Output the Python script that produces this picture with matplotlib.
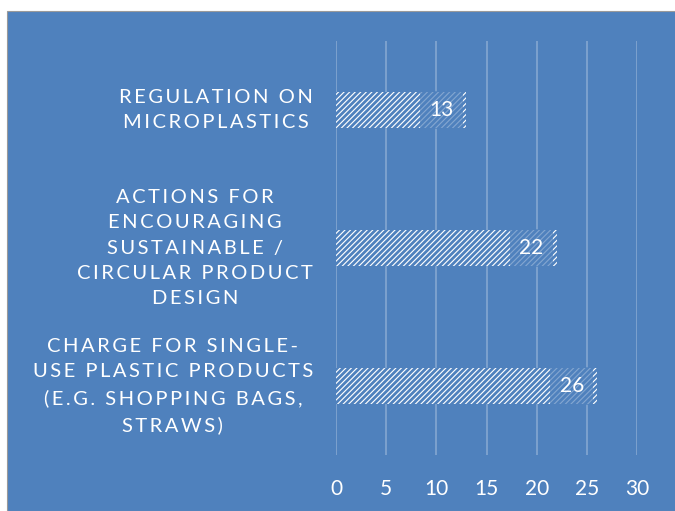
import matplotlib.pyplot as plt
from matplotlib.patches import Rectangle

# data
categories = [
    "REGULATION ON\nMICROPLASTICS",
    "ACTIONS FOR\nENCOURAGING\nSUSTAINABLE /\nCIRCULAR PRODUCT\nDESIGN",
    "CHARGE FOR SINGLE-\nUSE PLASTIC PRODUCTS\n(E.G. SHOPPING BAGS,\nSTRAWS)",
]
values = [13, 22, 26]
xticks = [0, 5, 10, 15, 20, 25, 30]

BLUE = "#4F81BD"
FONT = ["Lato", "DejaVu Sans"]

plt.rcParams["hatch.linewidth"] = 2.0
plt.rcParams["hatch.color"] = BLUE


def spaced(s):
    # mimic the wide letter spacing of the original
    return "\n".join("\u2009".join(line) for line in s.split("\n"))


fig = plt.figure(figsize=(6.75, 5.11), dpi=100)
fig.patch.set_facecolor("white")
bg = Rectangle((7 / 675, 0), 1, 1 - 11 / 511, transform=fig.transFigure,
               facecolor=BLUE, edgecolor="#9a9a9a", lw=0.8, zorder=-5)
fig.add_artist(bg)

ax = fig.add_axes([336 / 675, 1 - 455 / 511, 301 / 675, 414 / 511])
ax.set_facecolor("none")

ypos = list(range(len(categories)))
ax.barh(ypos, values, height=0.26, color="white", edgecolor=BLUE, hatch="//////",
        linewidth=0, zorder=3)

for y, v in zip(ypos, values):
    ax.text(v - 1.3, y, str(v), ha="right", va="center", color="white",
            fontsize=15, family=FONT, zorder=4,
            bbox=dict(boxstyle="square,pad=0.45", facecolor=BLUE, alpha=0.7, lw=0))

for y, c in zip(ypos, categories):
    ax.text(-0.0764, y, spaced(c), transform=ax.get_yaxis_transform(),
            ha="right", va="center", multialignment="center", color="white",
            fontsize=14.5, family=FONT, linespacing=1.6)

ax.set_xlim(0, 30)
ax.set_ylim(2.5, -0.5)
ax.set_xticks(xticks)
ax.set_xticklabels([str(t) for t in xticks], color="white", fontsize=15, family=FONT)
ax.set_yticks([])
ax.tick_params(axis="x", length=0, pad=17)
ax.grid(axis="x", color="white", alpha=0.3, lw=1.2, zorder=0)
for s in ax.spines.values():
    s.set_visible(False)

fig.savefig("out.png", dpi=100)
